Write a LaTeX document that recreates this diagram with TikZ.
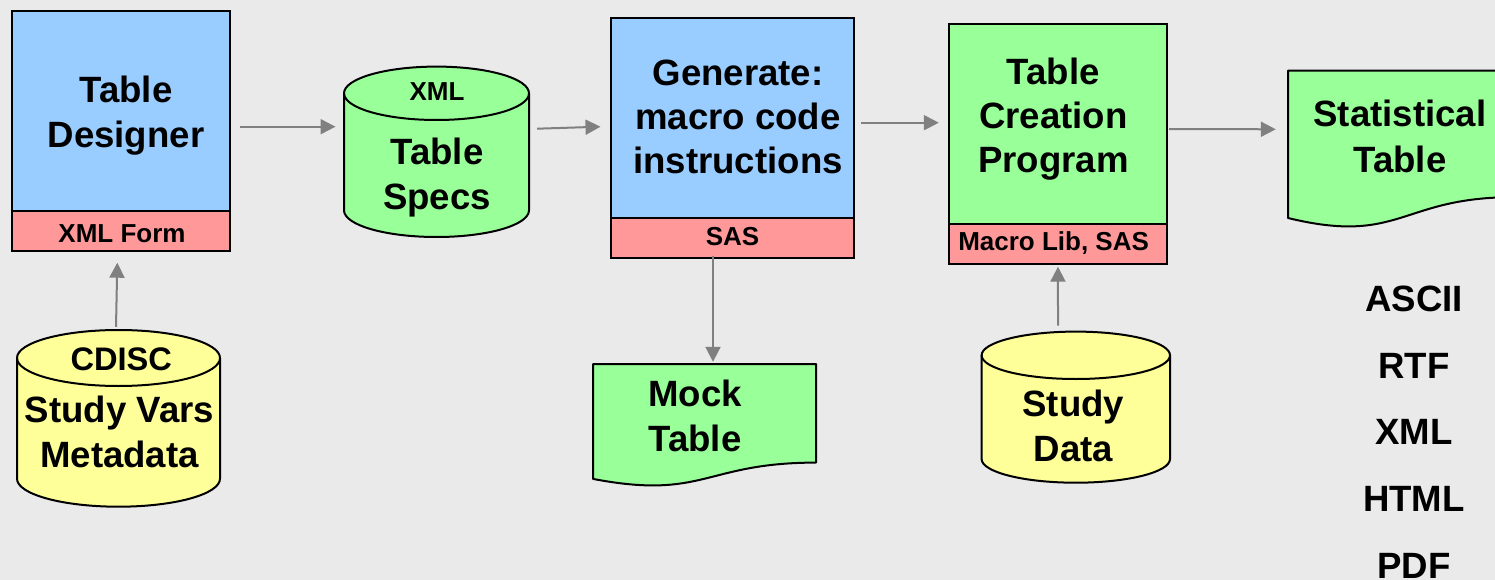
\documentclass[tikz,border=0pt]{standalone}
\usepackage{fontspec}
\setmainfont{Liberation Sans}
\usetikzlibrary{arrows.meta}
\definecolor{bg}{HTML}{EAEAEA}
\definecolor{cblue}{HTML}{99CCFF}
\definecolor{cred}{HTML}{FF9999}
\definecolor{cgreen}{HTML}{99FF99}
\definecolor{cyellow}{HTML}{FFFF99}
\definecolor{cgray}{HTML}{808080}
\begin{document}
\begin{tikzpicture}[x=1pt,y=-1pt,
  panel/.style={draw=black,line width=2pt,rectangle,inner sep=0pt},
  hold/.style={rectangle,inner sep=0pt},
  shapeline/.style={draw=black,line width=2pt,line join=round},
  big/.style={font=\fontsize{36.6}{45}\selectfont\bfseries,align=center,anchor=base,inner sep=0pt},
  bigt/.style={font=\fontsize{36.6}{44}\selectfont\bfseries,align=center,anchor=base,inner sep=0pt},
  small/.style={font=\fontsize{26}{30}\selectfont\bfseries,align=center,anchor=base,inner sep=0pt},
  mid/.style={font=\fontsize{32.6}{40}\selectfont\bfseries,align=center,anchor=base,inner sep=0pt},
  arr/.style={draw=cgray,line width=2pt,-{Triangle[length=15pt,width=15pt]}}]
\useasboundingbox (0,0) rectangle (1495,580);
\fill[bg] (0,0) rectangle (1495,580);
\clip (0,0) rectangle (1495,580);

% Table Designer
\node[panel,fill=cblue,minimum width=218pt,minimum height=200pt] (td) at (121,111) {};
\node[panel,fill=cred,minimum width=218pt,minimum height=39.5pt] (tdr) at (121,230.75) {};
\node[big] (tdlab) at (126,147.5) {Table\\Designer};
\node[small] (tdrlab) at (122,242.3) {XML Form};

% Table Specs cylinder
\node[hold,minimum width=185pt,minimum height=170.4pt] (spec) at (436.5,151.8) {};
\filldraw[fill=cgreen,shapeline] (344,93.3) -- (344,210.3)
  arc[start angle=180,end angle=0,x radius=92.5,y radius=26.7] -- (529,93.3)
  arc[start angle=0,end angle=-180,x radius=92.5,y radius=26.7] -- cycle;
\draw[shapeline] (344,93.3) arc[start angle=180,end angle=0,x radius=92.5,y radius=26.7];
\node[small] (speclabtop) at (437,100.7) {XML};
\node[bigt] (speclab) at (437,209) {Table\\Specs};

% Generate
\node[panel,fill=cblue,minimum width=243pt,minimum height=199.7pt] (gen) at (732.5,118.15) {};
\node[panel,fill=cred,minimum width=243pt,minimum height=40pt] (genr) at (732.5,238) {};
\node[bigt] (genlab) at (738,174) {Generate:\\macro code\\instructions};
\node[small] (genrlab) at (732.5,245) {SAS};

% Table Creation Program
\node[panel,fill=cgreen,minimum width=218.9pt,minimum height=200pt] (tcp) at (1057.95,124) {};
\node[panel,fill=cred,minimum width=218.9pt,minimum height=40pt] (tcpr) at (1057.95,244) {};
\node[bigt] (tcplab) at (1053.4,173) {Table\\Creation\\Program};
\node[small] (tcprlab) at (1053.6,250) {Macro Lib, SAS};

% Statistical Table document
\node[hold,minimum width=225pt,minimum height=155.6pt] (stat) at (1400.5,148.5) {};
\filldraw[fill=cgreen,shapeline] (1288,70.7) -- (1513,70.7) -- (1513,197.2)
  .. controls (1400.5,197.2) and (1400.5,245.4) .. (1288,218) -- cycle;
\node[big] (statlab) at (1400,172) {Statistical\\Table};

% Mock Table document
\node[hold,minimum width=223pt,minimum height=121.4pt] (mock) at (704.5,424.7) {};
\filldraw[fill=cgreen,shapeline] (593,364) -- (816,364) -- (816,462.6)
  .. controls (704.5,462.6) and (704.5,500.2) .. (593,478.9) -- cycle;
\node[big] (mocklab) at (695,451.7) {Mock\\Table};

% Study Data cylinder
\node[hold,minimum width=188.4pt,minimum height=151.1pt] (sd) at (1075.8,407.15) {};
\filldraw[fill=cyellow,shapeline] (981.6,355.3) -- (981.6,459)
  arc[start angle=180,end angle=0,x radius=94.2,y radius=23.7] -- (1170,355.3)
  arc[start angle=0,end angle=-180,x radius=94.2,y radius=23.7] -- cycle;
\draw[shapeline] (981.6,355.3) arc[start angle=180,end angle=0,x radius=94.2,y radius=23.7];
\node[big] (sdlab) at (1073.3,461) {Study\\Data};

% CDISC cylinder
\node[hold,minimum width=203pt,minimum height=176.7pt] (cd) at (118.5,418.35) {};
\filldraw[fill=cyellow,shapeline] (17,358) -- (17,478.7)
  arc[start angle=180,end angle=0,x radius=101.5,y radius=28] -- (220,358)
  arc[start angle=0,end angle=-180,x radius=101.5,y radius=28] -- cycle;
\draw[shapeline] (17,358) arc[start angle=180,end angle=0,x radius=101.5,y radius=28];
\node[mid] (cdtop) at (121.3,370) {CDISC};
\node[big] (cdlab) at (119.5,467.5) {Study Vars\\Metadata};

% Output formats
\node[font=\fontsize{36.6}{66.7}\selectfont\bfseries,align=center,anchor=base,inner sep=0pt] (fmts) at (1414,578.3) {ASCII\\RTF\\XML\\HTML\\PDF};

% Connectors
\draw[arr] ([shift={(9.3,15.7)}]td.east) -- ([shift={(-8.3,-25.1)}]spec.west);
\draw[arr] ([shift={(8,-23.1)}]spec.east) -- ([shift={(-9.5,8.55)}]gen.west);
\draw[arr] ([shift={(5.5,4.55)}]gen.east) -- ([shift={(-8.7,-1.3)}]tcp.west);
\draw[arr] ([shift={(0.6,5)}]tcp.east) -- ([shift={(-12,-19.2)}]stat.west);
\draw[arr] ([shift={(-19.5,-3)}]genr.south) -- ([shift={(8.5,-2)}]mock.north);
\draw[arr] ([shift={(-17.8,-5.9)}]sd.north) -- ([shift={(0,1.7)}]tcpr.south);
\draw[arr] ([shift={(-2.5,-3)}]cd.north) -- ([shift={(-3.7,11.2)}]tdr.south);
\end{tikzpicture}
\end{document}
